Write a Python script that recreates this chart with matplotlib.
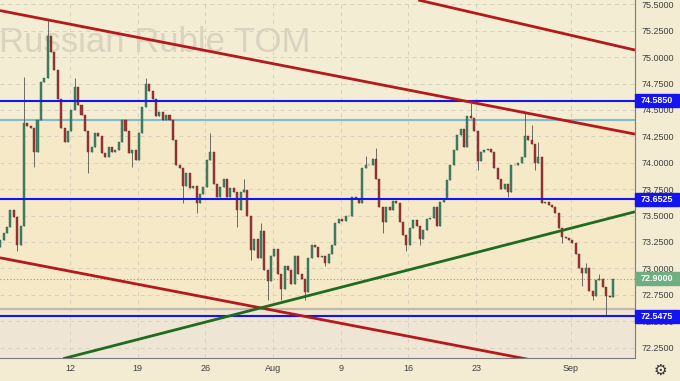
import numpy as np
import matplotlib.pyplot as plt
from matplotlib.patches import Rectangle

# closes of quarter-day bars (first bar ~ Jul 2, last ~ Sep 6)
closes = [73.27, 73.33, 73.39, 73.55, 73.49, 73.22, 73.40, 74.38, 74.35, 74.33,
          74.10, 74.40, 74.76, 74.80, 75.20, 75.05, 74.88, 74.60, 74.33, 74.20,
          74.30, 74.50, 74.72, 74.55, 74.45, 74.30, 74.10, 74.15, 74.28, 74.25,
          74.09, 74.05, 74.15, 74.10, 74.12, 74.20, 74.40, 74.30, 74.09, 74.12,
          74.03, 74.28, 74.53, 74.75, 74.68, 74.60, 74.44, 74.48, 74.40, 74.45,
          74.40, 74.22, 73.98, 73.95, 73.78, 73.90, 73.76, 73.78, 73.62, 73.70,
          73.77, 74.03, 74.10, 73.80, 73.68, 73.77, 73.85, 73.68, 73.76, 73.72,
          73.55, 73.72, 73.74, 73.50, 73.17, 73.28, 73.10, 73.35, 72.98, 72.88,
          73.12, 73.18, 72.95, 72.80, 73.02, 72.98, 72.85, 73.12, 72.95, 72.90,
          72.78, 73.10, 73.22, 73.20, 73.11, 73.12, 73.05, 73.14, 73.22, 73.43,
          73.47, 73.45, 73.50, 73.50, 73.68, 73.66, 73.62, 73.95, 73.98, 73.98,
          74.04, 73.85, 73.58, 73.44, 73.58, 73.55, 73.64, 73.62, 73.44, 73.32,
          73.22, 73.38, 73.46, 73.40, 73.28, 73.36, 73.47, 73.48, 73.58, 73.40,
          73.63, 73.66, 73.84, 73.98, 74.12, 74.26, 74.32, 74.15, 74.44, 74.42,
          74.30, 74.02, 74.10, 74.12, 74.13, 74.10, 73.95, 73.85, 73.75, 73.80,
          73.72, 73.98, 73.98, 74.00, 74.05, 74.25, 74.22, 74.18, 74.00, 74.05,
          73.62, 73.63, 73.60, 73.58, 73.52, 73.38, 73.30, 73.29, 73.27, 73.24,
          73.14, 73.00, 72.96, 73.00, 72.79, 72.74, 72.89, 72.90, 72.82, 72.74,
          72.73, 72.90]
first_open = 73.20

# long wicks (bar index, price)
hi_spikes = [(7, 74.81), (14, 75.35), (22, 74.80), (43, 74.80), (62, 74.28),
             (72, 73.85), (77, 73.43), (108, 74.06), (111, 74.14), (139, 74.57),
             (155, 74.47), (157, 74.36), (159, 74.20), (173, 73.05), (177, 72.95)]
lo_spikes = [(5, 73.16), (10, 73.96), (26, 73.90), (39, 73.96), (54, 73.62),
             (58, 73.52), (70, 73.39), (74, 73.08), (79, 72.70), (83, 72.70),
             (90, 72.70), (96, 73.02), (113, 73.33), (120, 73.16), (124, 73.22),
             (141, 73.93), (150, 73.68), (158, 73.93), (166, 73.24), (172, 72.83),
             (175, 72.70), (179, 72.55)]

# x axis: trading days counted from Mon Jul 12
week_ticks = [0, 5, 10, 15, 20, 25, 30, 37]
week_labels = ['12', '19', '26', 'Aug', '9', '16', '23', 'Sep']
price_ticks = [72.25, 72.5, 72.75, 73.0, 73.25, 73.5, 73.75, 74.0, 74.25,
               74.5, 74.75, 75.0, 75.25, 75.5]

blue_levels = [74.585, 73.6525, 72.5475]
cyan_level = 74.40
gray_level = 72.617
last_price = 72.90

# trend lines (day0, price0, day1, price1)
red_lines = [(-5.17, 75.441, 41.73, 74.271),
             (25.72, 75.541, 41.73, 75.067),
             (-5.17, 73.100, 35.0, 72.110)]
green_line = (-0.5, 72.145, 41.73, 73.536)

x0, x1 = -5.17, 41.73
y0, y1 = 72.151, 75.541

W, H = 680, 381
fig = plt.figure(figsize=(6.8, 3.81), dpi=100, facecolor='#f3ecd3')
ax = fig.add_axes([0, 23 / H, 635 / W, 358 / H])
ax.set_xlim(x0, x1)
ax.set_ylim(y0, y1)
ax.set_facecolor('#f2edd3')

# background zones
ax.axhspan(gray_level, cyan_level, color='#f6e9c8', zorder=0)
ax.axhspan(y0 - 1, gray_level, color='#eee5d5', zorder=0)
ax.axhline(gray_level, color='#c2b9a8', lw=1.6, zorder=1)

# grid
for t in week_ticks:
    ax.axvline(t, color='#d8d2bf', lw=0.7, ls=(0, (4, 4)), zorder=0.5)
for p in price_ticks:
    ax.axhline(p, color='#d8d2bf', lw=0.7, ls=(0, (4, 4)), zorder=0.5)

# watermark
ax.text(-0.002, (75.048 - y0) / (y1 - y0), 'Russian Ruble TOM', transform=ax.transAxes,
        fontsize=25, family='Liberation Sans', color='#d9d3bf',
        ha='left', va='baseline', zorder=0.6)

# candles
n = len(closes)
xs = x0 + 0.25 * np.arange(n) + 0.02
c = np.array(closes)
o = np.array([first_open] + closes[:-1])
hi = np.maximum(o, c)
lo = np.minimum(o, c)
for i, v in hi_spikes:
    hi[i] = max(hi[i], v)
for i, v in lo_spikes:
    lo[i] = min(lo[i], v)
up = c >= o
ax.vlines(xs, lo, hi, color='#555555', lw=0.6, zorder=3)
ax.bar(xs[up], (c - o)[up], bottom=o[up], width=0.15, color='#3f8568',
       edgecolor='#2e5a48', lw=0.3, zorder=4)
ax.bar(xs[~up], (c - o)[~up], bottom=o[~up], width=0.15, color='#9e3434',
       edgecolor='#6a2626', lw=0.3, zorder=4)

# levels
ax.axhline(cyan_level, color='#7fbccc', lw=1.5, zorder=2)
for p in blue_levels:
    ax.axhline(p, color='#1414f0', lw=1.5, zorder=5)
ax.axhline(last_price, color='#6fae80', lw=0.8, ls=(0, (1, 2)), zorder=2)

for d0, p0, d1, p1 in red_lines:
    ax.plot([d0, d1], [p0, p1], color='#b5191c', lw=2.0, zorder=6,
            solid_capstyle='butt')
ax.plot(green_line[::2], green_line[1::2], color='#1f6b1f', lw=2.0, zorder=6,
        solid_capstyle='butt')

# axes styling
for s in ['left', 'top']:
    ax.spines[s].set_visible(False)
for s in ['right', 'bottom']:
    ax.spines[s].set_color('#7a7a7a')
    ax.spines[s].set_linewidth(0.8)
ax.yaxis.tick_right()
ax.set_yticks(price_ticks)
ax.set_yticklabels(['%.4f' % p for p in price_ticks])
ax.set_xticks(week_ticks)
ax.set_xticklabels(week_labels)
ax.tick_params(axis='y', length=0, pad=4.5, labelsize=6.5, labelcolor='#3f3f3f')
ax.tick_params(axis='x', length=0, pad=4.5, labelsize=6.5, labelcolor='#3f3f3f')
for lab in ax.get_yticklabels() + ax.get_xticklabels():
    lab.set_family('Liberation Sans')

# price tags on the right axis
def tag(price, face):
    yf = (23 + (price - y0) / (y1 - y0) * 358) / H
    fig.patches.append(Rectangle((635 / W, yf - 6.5 / H), 44 / W, 13 / H,
                                 transform=fig.transFigure, color=face, zorder=5))
    fig.text(657 / W, yf, '%.4f' % price, color='white', fontsize=6.5,
             family='Liberation Sans', weight='bold', ha='center', va='center',
             zorder=6)

for p in blue_levels:
    tag(p, '#1414f0')
tag(last_price, '#6fae80')

# settings gear
fig.text(660 / W, 1 - 370 / H, '\u2699', ha='center', va='center', fontsize=11,
         color='#333333', family='DejaVu Sans')

fig.savefig('out.png', dpi=100, facecolor=fig.get_facecolor())
